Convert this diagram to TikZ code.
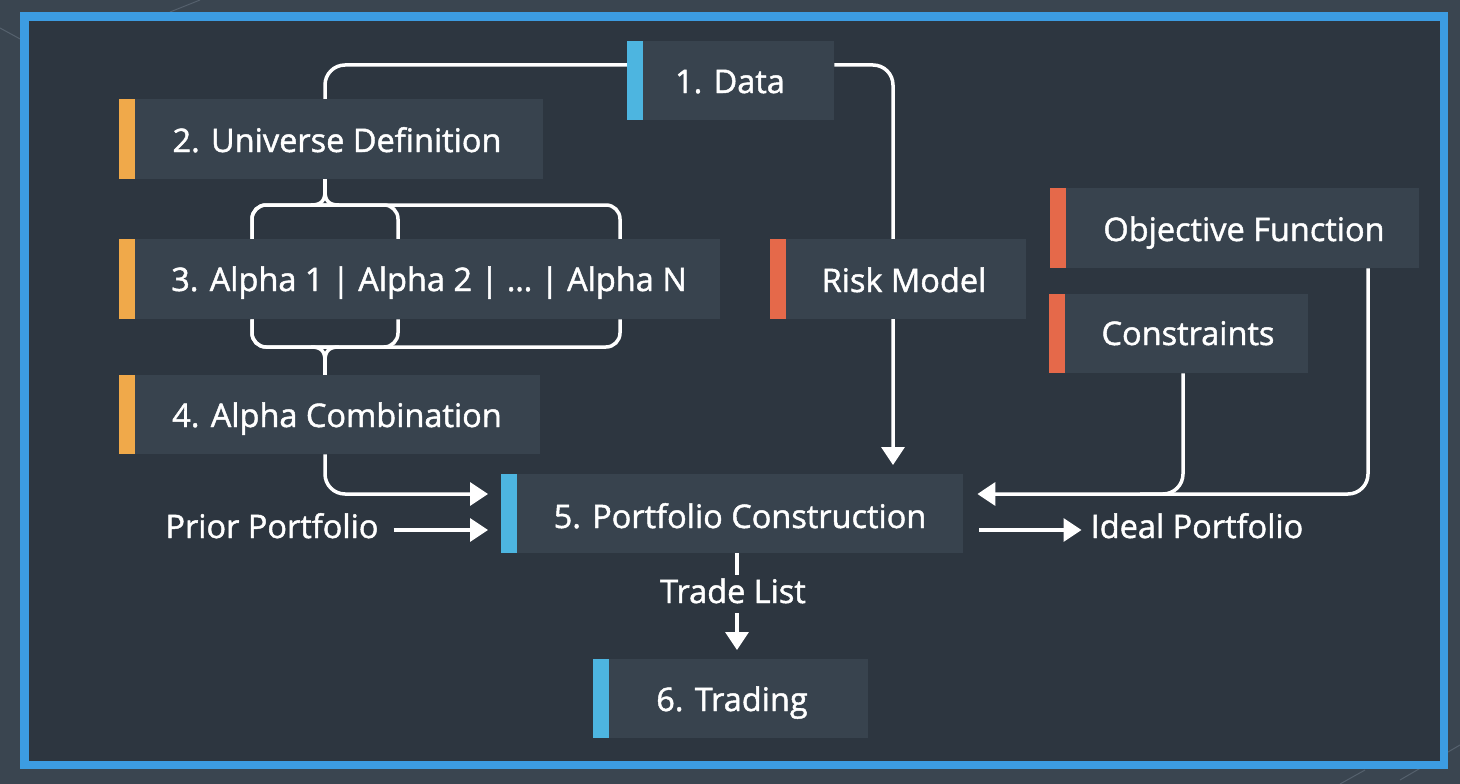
\documentclass[tikz,border=0pt]{standalone}
\usepackage{fontspec}
\setmainfont{Open Sans}
\newfontfamily\lblfont{Open Sans}[FakeBold=1.4]
\usetikzlibrary{arrows.meta}
\definecolor{pagebg}{HTML}{3A4550}
\definecolor{panel}{HTML}{2D3640}
\definecolor{frame}{HTML}{3C9CE2}
\definecolor{boxfill}{HTML}{38434E}
\definecolor{barblue}{HTML}{4DB5E0}
\definecolor{barorange}{HTML}{F0A94A}
\definecolor{barred}{HTML}{E5694A}
\definecolor{netline}{HTML}{55616D}

\begin{document}
\begin{tikzpicture}[x=1pt,y=-1pt,
  box/.style={fill=boxfill, anchor=north west, inner sep=0pt, draw=none},
  bar/.style={path picture={\fill[#1] (path picture bounding box.north west) rectangle ([xshift=16pt]path picture bounding box.south west);}},
  lbl/.style={text=white, font=\lblfont\fontsize{32.5}{38}\selectfont, anchor=base, inner sep=0pt},
  wire/.style={draw=white, line width=3.5pt, rounded corners=20pt},
  arr/.style={wire, -{Triangle[length=18pt,width=23pt]}},
]
% page and panel
\useasboundingbox (0,0) rectangle (1460,784);
\fill[pagebg] (0,0) rectangle (1460,784);
\draw[netline, line width=1pt] (0,28) -- (22,40) (170,12) -- (200,0) (1400,780) -- (1460,745) (1340,784) -- (1365,770);
\fill[frame] (20,12) rectangle (1448,769);
\fill[panel] (29,21) rectangle (1440,761);

% helper columns
\coordinate (c252) at (252,0);
\coordinate (c325) at (325,0);
\coordinate (c398) at (398,0);
\coordinate (c620) at (620,0);
\coordinate (c737) at (737,0);
\coordinate (c893) at (893,0);
\coordinate (c1183) at (1183,0);
\coordinate (c1368) at (1368,0);

% box corners
\path
  (627,41)   coordinate (pdata)
  (119,99)   coordinate (puniv)
  (119,239)  coordinate (palpha)
  (119,375)  coordinate (pcomb)
  (770,239)  coordinate (prisk)
  (1050,188) coordinate (pobj)
  (1049,294) coordinate (pcons)
  (501,474)  coordinate (pport)
  (593,659)  coordinate (ptrade);

% invisible anchors for routing
\path
  node[box, fill=none, minimum width=207pt, minimum height=79pt] (data) at (pdata) {}
  node[box, fill=none, minimum width=424pt, minimum height=80pt] (univ) at (puniv) {}
  node[box, fill=none, minimum width=601pt, minimum height=80pt] (alpha) at (palpha) {}
  node[box, fill=none, minimum width=421pt, minimum height=79pt] (comb) at (pcomb) {}
  node[box, fill=none, minimum width=256pt, minimum height=80pt] (risk) at (prisk) {}
  node[box, fill=none, minimum width=369pt, minimum height=80pt] (obj) at (pobj) {}
  node[box, fill=none, minimum width=259pt, minimum height=79pt] (cons) at (pcons) {}
  node[box, fill=none, minimum width=462pt, minimum height=79pt] (port) at (pport) {}
  node[box, fill=none, minimum width=275pt, minimum height=79pt] (trade) at (ptrade) {};

% free labels
\node[lbl] (prior) at (272,538) {Prior Portfolio};
\node[lbl] (ideal) at (1197,538) {Ideal Portfolio};
\node[lbl] (tl) at (733,603) {Trade List};

% connectors
\draw[wire] (data.west |- 0,65) -| (univ.north -| c325);
\draw[arr, shorten >=9pt] (data.east |- 0,65) -| (port.north -| c893);

% upper brace
\draw[wire] (univ.south -| c325) -- (325,192);
\draw[wire, rounded corners=0pt] (311,205) .. controls (321,205) and (325,201) .. (325,191)
  .. controls (325,201) and (329,205) .. (339,205);
\draw[wire, rounded corners=14pt] (alpha.north -| c252) |- (c398 |- 0,205) -- (alpha.north -| c398);
\draw[wire, rounded corners=14pt] (alpha.north -| c252) |- (c620 |- 0,205) -- (alpha.north -| c620);

% lower brace
\draw[wire, rounded corners=14pt] (alpha.south -| c252) |- (c398 |- 0,347) -- (alpha.south -| c398);
\draw[wire, rounded corners=14pt] (alpha.south -| c252) |- (c620 |- 0,347) -- (alpha.south -| c620);
\draw[wire, rounded corners=0pt] (311,347) .. controls (321,347) and (325,351) .. (325,361)
  .. controls (325,351) and (329,347) .. (339,347);
\draw[wire] (325,360) -- (comb.north -| c325);

% into portfolio construction
\draw[arr, shorten >=13pt] (comb.south -| c325) |- (port.west |- 0,494);
\draw[arr, shorten >=13pt] ([xshift=15pt]prior.east |- 0,530) -- (port.west |- 0,530);
\draw[arr, shorten >=14pt] (obj.south -| c1368) |- (port.east |- 0,494);
\draw[wire] (cons.south -| c1183) |- (1140,494);

% out of portfolio construction
\draw[arr, shorten <=16pt, shorten >=9pt] (port.east |- 0,530) -- (ideal.west |- 0,530);
\draw[wire] (port.south -| c737) -- (737,575);
\draw[arr, shorten >=9pt] (737,613) -- (trade.north -| c737);

% filled boxes with their colour bars
\node[box, bar=barblue,   minimum width=207pt, minimum height=79pt] (dataB) at (pdata) {};
\node[box, bar=barorange, minimum width=424pt, minimum height=80pt] (univB) at (puniv) {};
\node[box, bar=barorange, minimum width=601pt, minimum height=80pt] (alphaB) at (palpha) {};
\node[box, bar=barorange, minimum width=421pt, minimum height=79pt] (combB) at (pcomb) {};
\node[box, bar=barred,    minimum width=256pt, minimum height=80pt] (riskB) at (prisk) {};
\node[box, bar=barred,    minimum width=369pt, minimum height=80pt] (objB) at (pobj) {};
\node[box, bar=barred,    minimum width=259pt, minimum height=79pt] (consB) at (pcons) {};
\node[box, bar=barblue,   minimum width=462pt, minimum height=79pt] (portB) at (pport) {};
\node[box, bar=barblue,   minimum width=275pt, minimum height=79pt] (tradeB) at (ptrade) {};

% box labels
\node[lbl] (dataT)  at (730,93)   {1. Data};
\node[lbl] (univT)  at (337,152)  {2. Universe Definition};
\node[lbl] (alphaT) at (429,291)  {3. Alpha 1 | Alpha 2 | … | Alpha N};
\node[lbl] (combT)  at (337,427)  {4. Alpha Combination};
\node[lbl] (riskT)  at (904,292)  {Risk Model};
\node[lbl] (objT)   at (1244,241) {Objective Function};
\node[lbl] (consT)  at (1188,345) {Constraints};
\node[lbl] (portT)  at (740,528)  {5. Portfolio Construction};
\node[lbl] (tradeT) at (732,711)  {6. Trading};
\end{tikzpicture}
\end{document}
